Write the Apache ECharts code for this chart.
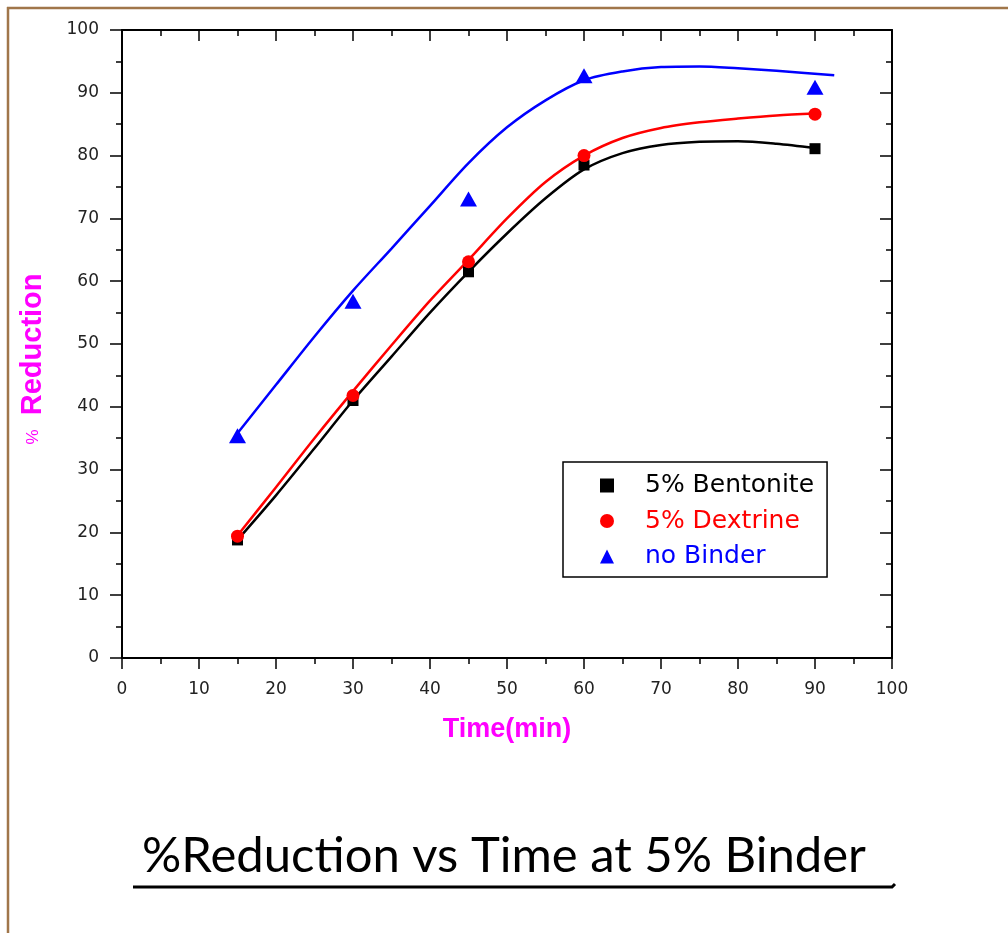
<!DOCTYPE html>
<html>
<head>
<meta charset="utf-8">
<script src="https://cdn.jsdelivr.net/npm/echarts@6/dist/echarts.min.js"></script>
<style>
html,body{margin:0;padding:0;background:#fff;}
#chart{width:1008px;height:933px;}
</style>
</head>
<body>
<div id="chart"></div>
<script>
// ---- data ----
const timeMin = [15, 30, 45, 60, 90];
const bentonite = [18.8, 41.0, 61.5, 78.5, 81.1];
const dextrine = [19.4, 41.8, 63.1, 80.0, 86.6];
const noBinder = [35.4, 56.8, 73.1, 92.7, 90.9];

// fitted curves
const fitBentoniteX = [15, 20, 25, 30, 35, 40, 45, 50, 55, 60, 65, 70, 75, 80, 85, 90];
const fitBentoniteY = [18.8, 25.9, 33.4, 41.0, 48.0, 55.0, 61.5, 67.6, 73.2, 77.8, 80.4, 81.7, 82.2, 82.3, 81.9, 81.2];
const fitDextrineX = [15, 20, 25, 30, 35, 40, 45, 50, 55, 60, 65, 70, 75, 80, 85, 90];
const fitDextrineY = [19.5, 27.2, 35.0, 42.5, 49.8, 56.9, 63.4, 70.0, 75.8, 80.0, 82.8, 84.4, 85.3, 85.9, 86.4, 86.7];
const fitNoBinderX = [15, 20, 25, 30, 35, 40, 45, 50, 55, 60, 65, 70, 75, 80, 85, 92.5];
const fitNoBinderY = [35.8, 43.5, 51.2, 58.5, 65.2, 72.0, 78.8, 84.5, 88.8, 92.0, 93.4, 94.1, 94.2, 93.9, 93.5, 92.8];

const seriesNames = ['5% Bentonite', '5% Dextrine', 'no Binder'];
const seriesColors = ['#000000', '#ff0000', '#0000ff'];

const zip = (xs, ys) => xs.map((x, i) => [x, ys[i]]);

const chart = echarts.init(document.getElementById('chart'), null, {renderer: 'canvas'});

const labelStyle = {fontFamily: 'DejaVu Sans', fontSize: 17, color: '#222'};
const lineStyleAxis = {color: '#000', width: 2};

const option = {
  backgroundColor: '#fff',
  animation: false,
  title: {
    text: '%Reduction vs Time at 5% Binder',
    left: 'center',
    top: 825,
    textStyle: {fontFamily: 'Lato', fontSize: 49, fontWeight: 'normal', color: '#000', lineHeight: 52}
  },
  grid: {left: 122, right: 116, top: 30, bottom: 275, containLabel: false},
  legend: {
    orient: 'vertical',
    left: 563, top: 462,
    padding: [11, 13, 8, 37],
    itemGap: 10.5,
    itemWidth: 14, itemHeight: 14,
    borderColor: '#000', borderWidth: 1.5,
    backgroundColor: '#fff',
    selectedMode: false,
    textStyle: {fontFamily: 'DejaVu Sans', fontSize: 25, lineHeight: 25, padding: [0, 0, 0, 26]},
    data: [
      {name: seriesNames[0], icon: 'rect', textStyle: {color: seriesColors[0]}},
      {name: seriesNames[1], icon: 'circle', textStyle: {color: seriesColors[1]}},
      {name: seriesNames[2], icon: 'triangle', textStyle: {color: seriesColors[2]}}
    ]
  },
  xAxis: [{
    type: 'value', min: 0, max: 100, interval: 10, position: 'bottom',
    name: 'Time(min)', nameLocation: 'middle', nameGap: 58,
    nameTextStyle: {fontFamily: 'Liberation Sans', fontWeight: 'bold', fontSize: 27, color: '#ff00ff'},
    axisLine: {show: true, onZero: false, lineStyle: lineStyleAxis},
    axisTick: {show: true, inside: false, length: 11, lineStyle: {color: '#000', width: 1.5}},
    minorTick: {show: true, splitNumber: 2, length: 6, lineStyle: {color: '#000', width: 1.5}},
    axisLabel: Object.assign({margin: 23}, labelStyle),
    splitLine: {show: false}
  }, {
    type: 'value', min: 0, max: 100, interval: 10, position: 'top',
    axisLine: {show: true, onZero: false, lineStyle: lineStyleAxis},
    axisTick: {show: true, inside: true, length: 11, lineStyle: {color: '#000', width: 1.5}},
    minorTick: {show: true, splitNumber: 2, length: 6, lineStyle: {color: '#000', width: 1.5}},
    axisLabel: {show: false},
    splitLine: {show: false}
  }],
  yAxis: [{
    type: 'value', min: 0, max: 100, interval: 10, position: 'left',
    axisLine: {show: true, onZero: false, lineStyle: lineStyleAxis},
    axisTick: {show: true, inside: false, length: 12, lineStyle: {color: '#000', width: 1.5}},
    minorTick: {show: true, splitNumber: 2, length: 6, lineStyle: {color: '#000', width: 1.5}},
    axisLabel: Object.assign({margin: 23}, labelStyle),
    splitLine: {show: false}
  }, {
    type: 'value', min: 0, max: 100, interval: 10, position: 'right',
    axisLine: {show: true, onZero: false, lineStyle: lineStyleAxis},
    axisTick: {show: true, inside: true, length: 12, lineStyle: {color: '#000', width: 1.5}},
    minorTick: {show: true, splitNumber: 2, length: 6, lineStyle: {color: '#000', width: 1.5}},
    axisLabel: {show: false},
    splitLine: {show: false}
  }],
  series: [
    {name: 'fit ' + seriesNames[0], type: 'line', smooth: 0.3, showSymbol: false, symbol: 'none',
     data: zip(fitBentoniteX, fitBentoniteY), lineStyle: {color: seriesColors[0], width: 2.5}, z: 2},
    {name: 'fit ' + seriesNames[1], type: 'line', smooth: 0.3, showSymbol: false, symbol: 'none',
     data: zip(fitDextrineX, fitDextrineY), lineStyle: {color: seriesColors[1], width: 2.5}, z: 2},
    {name: 'fit ' + seriesNames[2], type: 'line', smooth: 0.3, showSymbol: false, symbol: 'none',
     data: zip(fitNoBinderX, fitNoBinderY), lineStyle: {color: seriesColors[2], width: 2.5}, z: 2},
    {name: seriesNames[0], type: 'scatter', symbol: 'rect', symbolSize: 11,
     data: zip(timeMin, bentonite), itemStyle: {color: seriesColors[0], opacity: 1}, z: 5},
    {name: seriesNames[1], type: 'scatter', symbol: 'circle', symbolSize: 13,
     data: zip(timeMin, dextrine), itemStyle: {color: seriesColors[1], opacity: 1}, z: 5},
    {name: seriesNames[2], type: 'scatter', symbol: 'triangle', symbolSize: [17, 15],
     data: zip(timeMin, noBinder), itemStyle: {color: seriesColors[2], opacity: 1}, z: 5}
  ],
  graphic: [
    // outer brown frame (top and left edges)
    {type: 'line', shape: {x1: 7, y1: 8, x2: 1008, y2: 8}, style: {stroke: '#a0764a', lineWidth: 2.5}, silent: true},
    {type: 'line', shape: {x1: 8, y1: 7, x2: 8, y2: 933}, style: {stroke: '#a0764a', lineWidth: 2.5}, silent: true},
    // y axis title
    {type: 'text', x: 33, y: 359, rotation: Math.PI / 2,
     style: {
       text: '{p|%   }{b|Reduction}',
       align: 'center', verticalAlign: 'middle',
       rich: {
         p: {fontFamily: 'Liberation Sans', fontSize: 17, fill: '#ff00ff', fontWeight: 'normal'},
         b: {fontFamily: 'Liberation Sans', fontSize: 29, fontWeight: 'bold', fill: '#ff00ff'}
       }
     }},
    // underline below the title
    {type: 'polyline', shape: {points: [[133, 887], [892, 887], [895, 884]]},
     style: {stroke: '#000', lineWidth: 3, fill: null}, silent: true}
  ]
};
chart.setOption(option);
</script>
</body>
</html>
